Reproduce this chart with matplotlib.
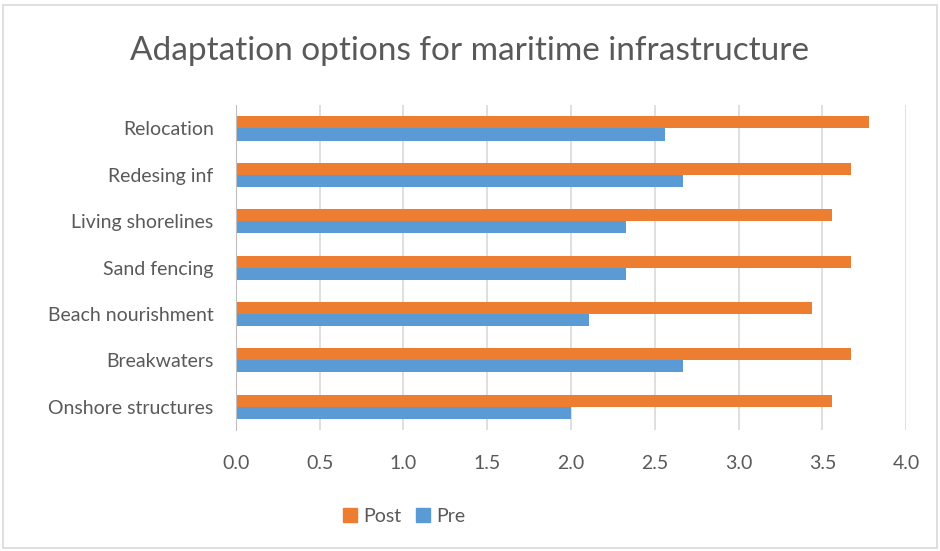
import numpy as np
import matplotlib.pyplot as plt
from matplotlib.patches import Rectangle, Patch

categories = ['Onshore structures', 'Breakwaters', 'Beach nourishment', 'Sand fencing',
              'Living shorelines', 'Redesing inf', 'Relocation']
pre = [2.00, 2.67, 2.11, 2.33, 2.33, 2.67, 2.56]
post = [3.56, 3.67, 3.44, 3.67, 3.56, 3.67, 3.78]
xticks = [0.0, 0.5, 1.0, 1.5, 2.0, 2.5, 3.0, 3.5, 4.0]

orange = '#ed7d31'
blue = '#5b9bd5'
txt = '#595959'

plt.rcParams['font.family'] = ['Lato', 'DejaVu Sans']

fig = plt.figure(figsize=(9.4, 5.51), dpi=100)
ax = fig.add_axes([0.251, 0.2196, 0.713, 0.5894])

y = np.arange(len(categories))
h = 0.26
ax.barh(y + h / 2, post, height=h, color=orange, label='Post', zorder=3)
ax.barh(y - h / 2, pre, height=h, color=blue, label='Pre', zorder=3)

ax.set_xlim(0, 4.0)
ax.set_ylim(-0.5, len(categories) - 0.5)
ax.set_xticks(xticks)
ax.set_xticklabels(['%.1f' % v for v in xticks])
ax.set_yticks(y)
ax.set_yticklabels(categories)
ax.tick_params(axis='x', length=0, pad=18, labelsize=14, labelcolor=txt)
ax.tick_params(axis='y', length=0, pad=16, labelsize=14, labelcolor=txt)
ax.grid(axis='x', color='#d9d9d9', linewidth=1.2, zorder=0)
for s in ['top', 'right', 'bottom']:
    ax.spines[s].set_visible(False)
ax.spines['left'].set_color('#bfbfbf')
ax.spines['left'].set_zorder(4)

fig.text(0.5, 0.908, 'Adaptation options for maritime infrastructure',
         ha='center', va='center', fontsize=24, color=txt)

handles = [Patch(color=orange, label='Post'), Patch(color=blue, label='Pre')]
fig.legend(handles=handles, loc='center', bbox_to_anchor=(0.43, 0.063), ncol=2,
           frameon=False, fontsize=14, handlelength=0.7, handleheight=0.7,
           handletextpad=0.3, columnspacing=0.8, labelcolor=txt)

fig.patches.append(Rectangle((0.003, 0.005), 0.994, 0.986, transform=fig.transFigure,
                             fill=False, edgecolor='#d9d9d9', linewidth=1.2))

fig.savefig('out.png', dpi=100)
